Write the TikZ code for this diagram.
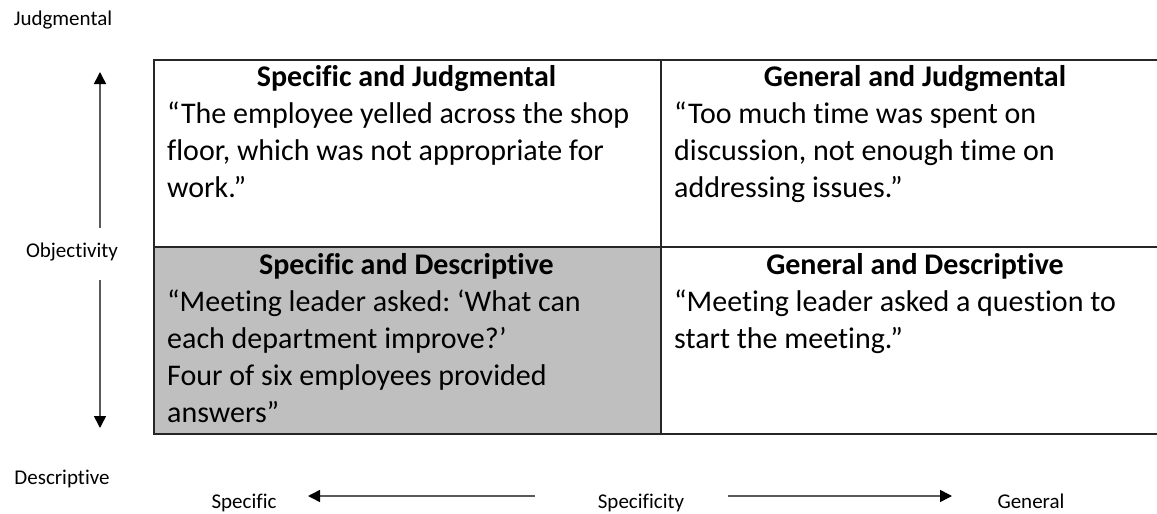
\documentclass[tikz,border=0pt]{standalone}
\usepackage{fontspec}
\setmainfont[Ligatures=NoCommon]{Carlito}
\frenchspacing
\usetikzlibrary{positioning}
\usetikzlibrary{arrows.meta}

\begin{document}
\begin{tikzpicture}[
    x=1pt, y=-1pt,
    font=\fontsize{30}{37}\selectfont
]
\tikzset{
    cellbox/.style = {rectangle, draw=black!85, line width=1.5pt, anchor=north west,
        inner sep=0pt, minimum width=507pt, minimum height=187pt},
    cellhead/.style = {font=\fontsize{30}{37}\selectfont\bfseries, inner sep=0pt, anchor=base},
    celltext/.style = {align=left, inner sep=0pt, anchor=base west},
    axislabel/.style = {font=\fontsize{21}{25}\selectfont, inner sep=0pt, anchor=base},
    axisarrow/.style = {-{Triangle[length=12pt,width=12pt,color=black]}, line width=1.6pt, draw=black!65}
}
\useasboundingbox (0,0) rectangle (1157,514);

% the four quadrants
\node[cellbox] at (153,59) (sj) {};
\node[cellbox] at (660,59) (gj) {};
\node[cellbox, fill=black!25] at (153,246) (sd) {};
\node[cellbox] at (660,246) (gd) {};

\node[cellhead] at (406.5,86) (sjh) {Specific and Judgmental};
\node[cellhead] at (915,86) (gjh) {General and Judgmental};
\node[cellhead] at (406.5,274) (sdh) {Specific and Descriptive};
\node[cellhead] at (915,274) (gdh) {General and Descriptive};

% base of a text block = baseline of its last line
\node[celltext] at (167,197) (sjt) {“The employee yelled across the shop\\floor, which was not appropriate for\\work.”};
\node[celltext] at (674,197) (gjt) {“Too much time was spent on\\discussion, not enough time on\\addressing issues.”};
\node[celltext] at (167,422) (sdt) {“Meeting leader asked: ‘What can\\each department improve?’\\Four of six employees provided\\answers”};
\node[celltext] at (674,348) (gdt) {“Meeting leader asked a question to\\start the meeting.”};

% axes
\node[axislabel] at (63,25) (judg) {Judgmental};
\node[axislabel] at (72,257) (obj) {Objectivity};
\node[axislabel] at (62,484) (desc) {Descriptive};
\node[axislabel] at (244,508) (spec) {Specific};
\node[axislabel] at (641,508) (specy) {Specificity};
\node[axislabel] at (1031,508) (gen) {General};

\coordinate (vtop) at (100,72);
\coordinate (vup) at (100,228);
\coordinate (vdown) at (100,280);
\coordinate (vbot) at (100,428);
\coordinate (hleft) at (308,496);
\coordinate (hlefttail) at (535,496);
\coordinate (hrighttail) at (728,496);
\coordinate (hright) at (952,496);
\draw[axisarrow] (vup) -- (vtop);
\draw[axisarrow] (vdown) -- (vbot);
\draw[axisarrow] (hlefttail) -- (hleft);
\draw[axisarrow] (hrighttail) -- (hright);
\end{tikzpicture}
\end{document}
